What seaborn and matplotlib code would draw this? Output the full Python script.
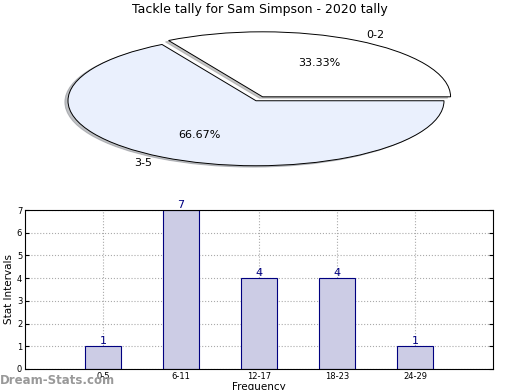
import seaborn as sns
import matplotlib.pyplot as plt

# Pie data
pie_labels = ["0-2", "3-5"]
pie_values = [1, 2]
pie_colors = ["#FFFFFF", "#EAF0FD"]

# Bar data
freq_labels = ["0-5", "6-11", "12-17", "18-23", "24-29"]
freq_counts = [1, 7, 4, 4, 1]

sns.set_style("white")
plt.rcParams["text.color"] = "black"
plt.rcParams["axes.labelcolor"] = "black"
plt.rcParams["xtick.color"] = "black"
plt.rcParams["ytick.color"] = "black"

fig = plt.figure(figsize=(5.2, 3.9), dpi=100)

fig.text(0.5, 1 - 10 / 390, "Tackle tally for Sam Simpson - 2020 tally",
         ha="center", va="center", fontsize=9)

# Pie chart (flattened)
ax1 = fig.add_axes([21 / 520, 208 / 390, 470 / 520, 162.5 / 390])
wedges, texts, autotexts = ax1.pie(pie_values, labels=pie_labels, colors=pie_colors,
                                   explode=[0.07, 0], autopct="%1.2f%%",
                                   shadow={"ox": -0.012, "oy": -0.015, "shade": 0.45},
                                   startangle=0, labeldistance=1.1, pctdistance=0.6,
                                   wedgeprops={"edgecolor": "black", "linewidth": 0.7},
                                   textprops={"fontsize": 8})
ax1.set_aspect("auto")
ax1.set_xlim(-1.25, 1.25)
ax1.set_ylim(-1.25, 1.25)
ax1.axis("off")

# Bar chart
ax2 = fig.add_axes([25 / 520, 21 / 390, 468 / 520, 159 / 390])
sns.barplot(x=freq_labels, y=freq_counts, color="#CCCCE5", edgecolor="#000080",
            linewidth=0.8, width=0.46, saturation=1, ax=ax2)
ax2.set_xlim(-1, 5)
ax2.set_ylim(0, 7)
ax2.set_yticks(range(0, 8))
ax2.grid(True, linestyle=":", color="#AAAAAA", linewidth=0.8)
ax2.set_axisbelow(True)
for s in ax2.spines.values():
    s.set_visible(True)
    s.set_color("black")
    s.set_linewidth(0.8)
ax2.tick_params(axis="both", labelsize=6, direction="in", length=3, right=True,
                left=True, bottom=False, pad=2)
ax2.set_ylabel("Stat Intervals", fontsize=7.5, labelpad=2)
ax2.set_xlabel("Frequency", fontsize=7.5, labelpad=1)
for i, v in enumerate(freq_counts):
    ax2.text(i, v, str(v), ha="center", va="bottom", fontsize=8, color="#000080")

fig.text(0, 9 / 390, "Dream-Stats.com", fontsize=8.5, color="#999999",
         fontweight="bold", ha="left", va="center")

fig.savefig("out.png", dpi=100)
